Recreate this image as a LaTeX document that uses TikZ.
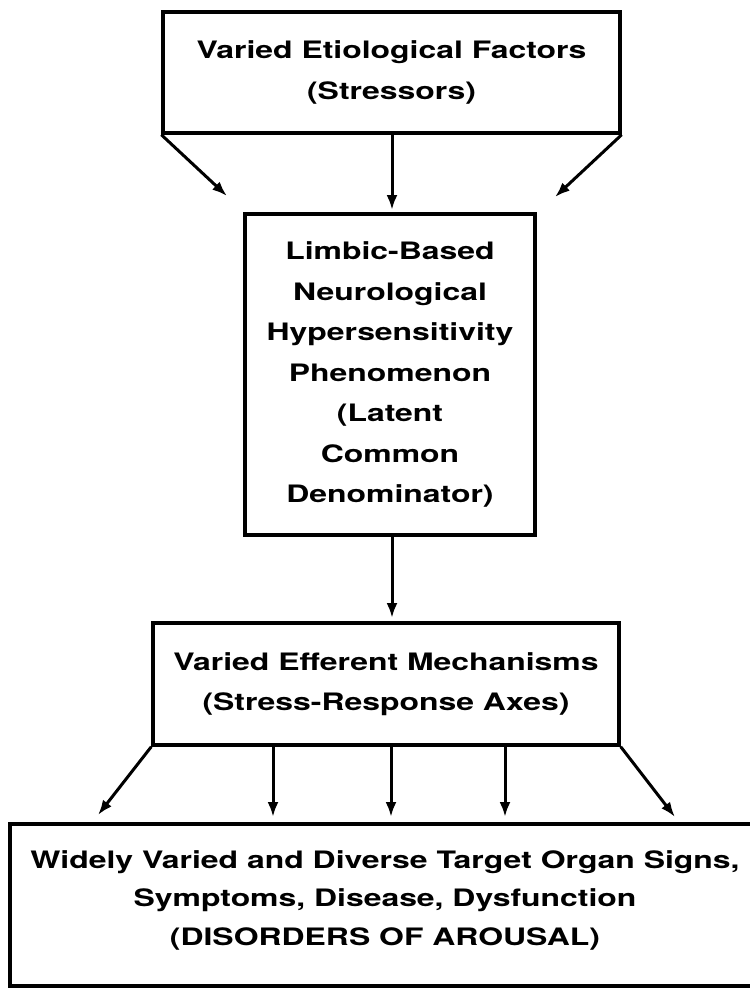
\documentclass[tikz,border=0pt]{standalone}
\usepackage{fontspec}
\setmainfont{TeX Gyre Heros}[FakeStretch=1.33, UprightFont=*-Bold]
\usetikzlibrary{arrows.meta}
\begin{document}
\begin{tikzpicture}[x=1pt,y=-1pt,
  box/.style={draw, line width=3.4pt, inner sep=0pt, align=center,
    font=\fontsize{24}{40.5}\selectfont},
  txt/.style={inner sep=0pt, align=center},
  arr/.style={line width=3pt, -{Latex[length=15pt,width=11pt]}}]
\useasboundingbox (0,0) rectangle (750,989);
\fill[white] (0,0) rectangle (750,989);
% boxes
\node[box, minimum width=457pt, minimum height=121pt] (top) at (391.5,72.5)
  {Varied Etiological Factors\\(Stressors)};
\node[box, minimum width=290pt, minimum height=321pt] (mid) at (390,374.5)
  {Limbic-Based\\Neurological\\Hypersensitivity\\Phenomenon\\(Latent\\Common\\Denominator)};
\node[box, minimum width=466pt, minimum height=122pt] (eff) at (386,684)
  {Varied Efferent Mechanisms\\(Stress-Response Axes)};
\node[box, minimum width=780pt, minimum height=162pt] (bot) at (400,905) {};
\node[txt, font=\fontsize{24}{38.5}\selectfont] (bottxt) at (385,900)
  {Widely Varied and Diverse Target Organ Signs,\\Symptoms, Disease, Dysfunction\\(DISORDERS OF AROUSAL)};
% free ends
\coordinate (tl) at (227,196);
\coordinate (tc) at (392,210);
\coordinate (tr) at (555,197);
\coordinate (mc) at (392,618);
\coordinate (bl) at (98,815);
\coordinate (b1) at (273,817);
\coordinate (b2) at (391,817);
\coordinate (b3) at (505,817);
\coordinate (br) at (675,817);
% connectors
\draw[arr] (top.south west) -- (tl);
\draw[arr] (top.south -| tc) -- (tc);
\draw[arr] (top.south east) -- (tr);
\draw[arr] (mid.south -| mc) -- (mc);
\draw[arr] (eff.south west) -- (bl);
\draw[arr] (eff.south -| b1) -- (b1);
\draw[arr] (eff.south -| b2) -- (b2);
\draw[arr] (eff.south -| b3) -- (b3);
\draw[arr] (eff.south east) -- (br);
\end{tikzpicture}
\end{document}
